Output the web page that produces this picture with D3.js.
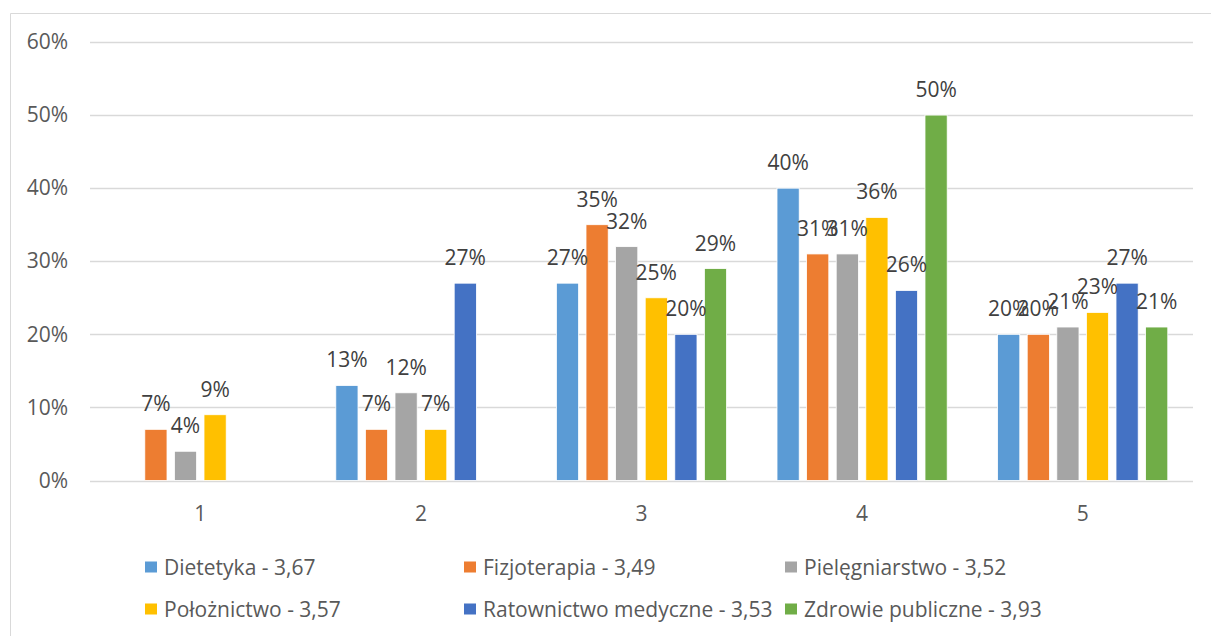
<!DOCTYPE html>
<html>
<head>
<meta charset="utf-8">
<script src="https://cdn.jsdelivr.net/npm/d3@7"></script>
<style>
  html, body { margin: 0; padding: 0; background: #fff; }
  svg { display: block; }
  text { font-family: "Open Sans", "Noto Sans", sans-serif; }
</style>
</head>
<body>
<svg id="chart" width="1211" height="636"></svg>
<script>
const categories = ["1", "2", "3", "4", "5"];
const seriesNames = [
  "Dietetyka - 3,67",
  "Fizjoterapia - 3,49",
  "Pielęgniarstwo - 3,52",
  "Położnictwo - 3,57",
  "Ratownictwo medyczne - 3,53",
  "Zdrowie publiczne - 3,93"
];
const dietetyka      = [0, 13, 27, 40, 20];
const fizjoterapia   = [7, 7, 35, 31, 20];
const pielegniarstwo = [4, 12, 32, 31, 21];
const poloznictwo    = [9, 7, 25, 36, 23];
const ratownictwo    = [0, 27, 20, 26, 27];
const zdrowie        = [0, 0, 29, 50, 21];
const seriesValues = [dietetyka, fizjoterapia, pielegniarstwo, poloznictwo, ratownictwo, zdrowie];
const colors = ["#5B9BD5", "#ED7D31", "#A5A5A5", "#FFC000", "#4472C4", "#70AD47"];
const yTicks = [0, 10, 20, 30, 40, 50, 60];

(function () {
const svg = d3.select("#chart");

svg.append("path")
  .attr("d", "M10.5,636 L10.5,13.5 L1211,13.5")
  .attr("fill", "none")
  .attr("stroke", "#d9d9d9")
  .attr("stroke-width", 1);

const pLeft = 90, pRight = 1193, pTop = 42, pBottom = 480.5;

const x0 = d3.scaleBand().domain(categories).range([pLeft, pRight]).padding(0);
const groupWidth = x0.bandwidth() * 0.805;
const x1 = d3.scaleBand().domain(d3.range(seriesNames.length))
  .range([(x0.bandwidth() - groupWidth) / 2, (x0.bandwidth() + groupWidth) / 2])
  .paddingInner(0.25).paddingOuter(0.125);
const y = d3.scaleLinear().domain([0, 60]).range([pBottom, pTop]);

svg.append("g").selectAll("line").data(yTicks).join("line")
  .attr("x1", pLeft).attr("x2", pRight)
  .attr("y1", d => Math.round(y(d)) + 0.5).attr("y2", d => Math.round(y(d)) + 0.5)
  .attr("stroke", "#d9d9d9").attr("stroke-width", 1.3);

const yAxis = d3.axisLeft(y).tickValues(yTicks).tickFormat(d => d + "%").tickSize(0).tickPadding(0);
const gy = svg.append("g").attr("transform", "translate(68,0)").call(yAxis);
gy.select(".domain").remove();
gy.selectAll("text").attr("fill", "#595959").style("font-size", "21px")
  .style("font-family", '"Open Sans", sans-serif');

const xAxis = d3.axisBottom(x0).tickSize(0).tickPadding(0);
const gx = svg.append("g").attr("transform", `translate(0,${pBottom})`).call(xAxis);
gx.select(".domain").remove();
gx.selectAll("text").attr("fill", "#595959").style("font-size", "21px")
  .style("font-family", '"Open Sans", sans-serif')
  .attr("dy", null).attr("y", 40);

const data = [];
categories.forEach((c, ci) => {
  seriesValues.forEach((vals, si) => {
    data.push({ cat: c, s: si, v: vals[ci] });
  });
});

const g = svg.append("g");
g.selectAll("rect").data(data.filter(d => d.v > 0)).join("rect")
  .attr("x", d => x0(d.cat) + x1(d.s))
  .attr("width", x1.bandwidth())
  .attr("y", d => y(d.v))
  .attr("height", d => y(0) - y(d.v))
  .attr("fill", d => colors[d.s])
  .attr("stroke", "#fff").attr("stroke-width", 0.8);

g.selectAll("text.lbl").data(data.filter(d => d.v > 0)).join("text")
  .attr("class", "lbl")
  .attr("x", d => x0(d.cat) + x1(d.s) + x1.bandwidth() / 2)
  .attr("y", d => y(d.v) - 18)
  .attr("text-anchor", "middle")
  .attr("fill", "#404040")
  .style("font-size", "21px")
  .text(d => d.v + "%");

const legendX = [145, 464, 785];
const legendY = [567, 609];
const lg = svg.append("g");
seriesNames.forEach((name, i) => {
  const lx = legendX[i % 3], ly = legendY[Math.floor(i / 3)];
  lg.append("rect").attr("x", lx).attr("y", ly - 5.5).attr("width", 12).attr("height", 11)
    .attr("fill", colors[i]);
  lg.append("text").attr("x", lx + 19).attr("y", ly + 7.5)
    .attr("fill", "#595959").style("font-size", "21px").text(name);
});
})();
</script>
</body>
</html>
